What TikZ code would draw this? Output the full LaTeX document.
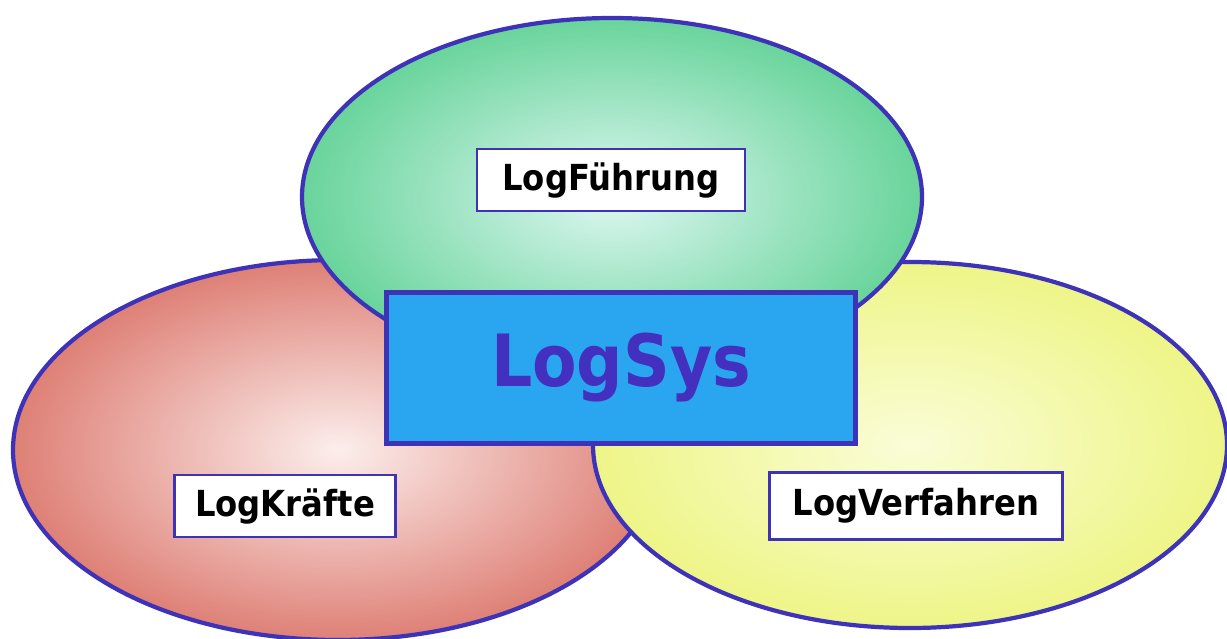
\documentclass[tikz,border=0pt]{standalone}
\usepackage{fontspec}
\setmainfont[FakeStretch=0.9]{DejaVu Sans}
\usepackage{tikz}
\usetikzlibrary{shapes.geometric}

\definecolor{rim}{RGB}{62,50,185}
\definecolor{greenout}{RGB}{105,212,155}
\definecolor{greenin}{RGB}{222,247,242}
\definecolor{redout}{RGB}{222,128,118}
\definecolor{redin}{RGB}{252,238,236}
\definecolor{yellowout}{RGB}{238,245,135}
\definecolor{yellowin}{RGB}{250,253,215}
\definecolor{sysblue}{RGB}{42,166,240}
\definecolor{systext}{RGB}{68,48,190}

\begin{document}
\begin{tikzpicture}[x=0.1mm,y=-0.1mm,
  area node/.style={ellipse,draw=rim,line width=1.2pt,inner sep=0pt},
  label node/.style={rectangle,draw=rim,line width=0.7pt,fill=white,inner sep=0pt,
    font=\fontsize{10.2pt}{12pt}\selectfont\bfseries},
  sys node/.style={rectangle,draw=rim,line width=1.2pt,fill=sysblue,inner sep=0pt,
    minimum width=46.9mm,minimum height=15.1mm,text=systext,
    font=\fontsize{20.5pt}{24pt}\selectfont\bfseries}]

  \path[use as bounding box] (0,0) rectangle (1227,638);

  % the three areas
  \node[area node,minimum width=65mm,minimum height=38mm,
    shading=radial,inner color=redin,outer color=redout] (kraefte) at (338,450) {};
  \node[area node,minimum width=63.4mm,minimum height=36.6mm,
    shading=radial,inner color=yellowin,outer color=yellowout] (verfahren) at (910,445) {};
  \node[area node,minimum width=62mm,minimum height=35.8mm,
    shading=radial,inner color=greenin,outer color=greenout] (fuehrung) at (612,197) {};

  % labels
  \node[label node,minimum width=26.8mm,minimum height=6.2mm] (lfuehrung) at (611,180) {LogFührung};
  \node[label node,minimum width=22.1mm,minimum height=6.2mm] (lkraefte) at (285,506) {LogKräfte};
  \node[label node,minimum width=29.3mm,minimum height=6.7mm] (lverfahren) at (916,506) {LogVerfahren};

  \node[sys node] (sys) at (621,368) {LogSys};
\end{tikzpicture}
\end{document}
